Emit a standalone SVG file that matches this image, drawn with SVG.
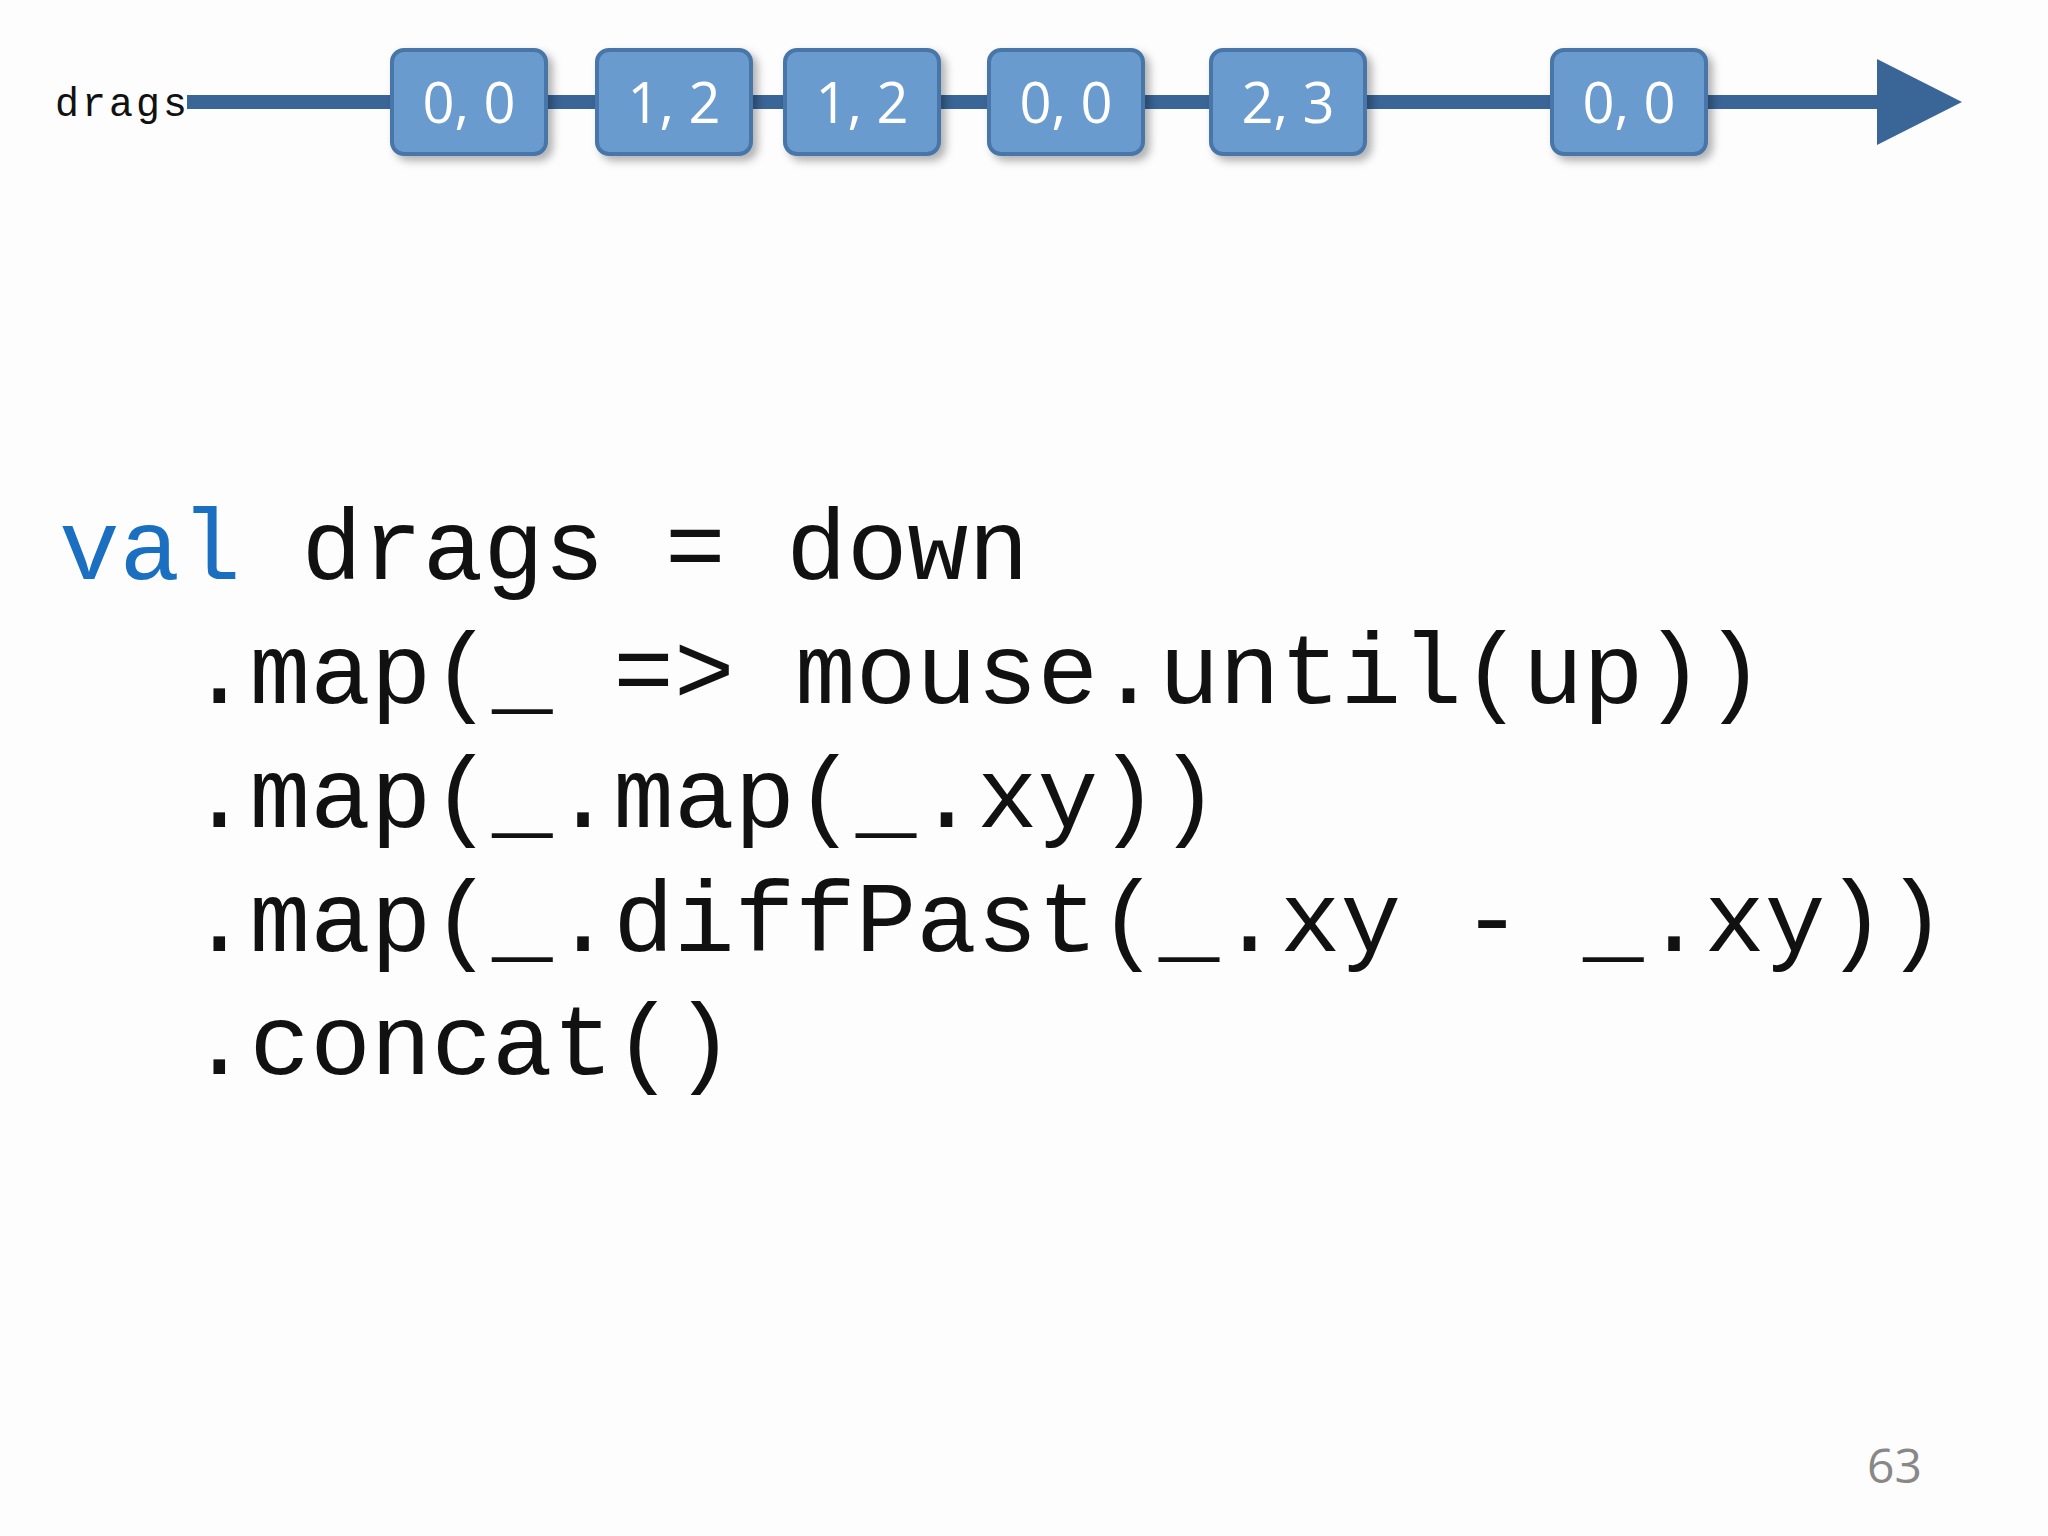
<svg xmlns="http://www.w3.org/2000/svg" width="2048" height="1536" viewBox="0 0 2048 1536">
<defs>
<style>
.box rect{fill:#6b9bcf;stroke:#4876a8;stroke-width:4}
.box text{fill:#fff;font-family:"Open Sans","Liberation Sans",sans-serif;font-size:56px;text-anchor:middle}
.code{font-family:"Liberation Mono",monospace;font-size:101px;fill:#111}
</style>
<filter id="sh" x="-20%" y="-20%" width="150%" height="150%"><feDropShadow dx="5" dy="5" stdDeviation="4" flood-opacity="0.3"/></filter>
</defs>
<rect width="2048" height="1536" fill="#fdfdfd"/>
<g id="connectors">
<line x1="187" y1="102" x2="1885" y2="102" stroke="#3a6597" stroke-width="14"/>
<polygon points="1877,59 1962,102 1877,145" fill="#3a6597"/>
</g>
<text x="55" y="116" font-family="Liberation Mono,monospace" font-size="40" letter-spacing="3" fill="#111">drags</text>
<g id="n1" class="box" filter="url(#sh)"><rect x="392" y="50" width="154" height="104" rx="12"/><text x="469" y="123">0, 0</text></g>
<g id="n2" class="box" filter="url(#sh)"><rect x="597" y="50" width="154" height="104" rx="12"/><text x="674" y="123">1, 2</text></g>
<g id="n3" class="box" filter="url(#sh)"><rect x="785" y="50" width="154" height="104" rx="12"/><text x="862" y="123">1, 2</text></g>
<g id="n4" class="box" filter="url(#sh)"><rect x="989" y="50" width="154" height="104" rx="12"/><text x="1066" y="123">0, 0</text></g>
<g id="n5" class="box" filter="url(#sh)"><rect x="1211" y="50" width="154" height="104" rx="12"/><text x="1288" y="123">2, 3</text></g>
<g id="n6" class="box" filter="url(#sh)"><rect x="1552" y="50" width="154" height="104" rx="12"/><text x="1629" y="123">0, 0</text></g>
<g class="code">
<text x="59" y="579" xml:space="preserve"><tspan fill="#1a6fc0">val</tspan> drags = down</text>
<text x="189" y="703" xml:space="preserve">.map(_ =&gt; mouse.until(up))</text>
<text x="189" y="827">.map(_.map(_.xy))</text>
<text x="189" y="951" xml:space="preserve">.map(_.diffPast(_.xy - _.xy))</text>
<text x="189" y="1074">.concat()</text>
</g>
<text x="1922" y="1483" text-anchor="end" font-family="Open Sans,Liberation Sans,sans-serif" font-size="48" fill="#888">63</text>
</svg>
